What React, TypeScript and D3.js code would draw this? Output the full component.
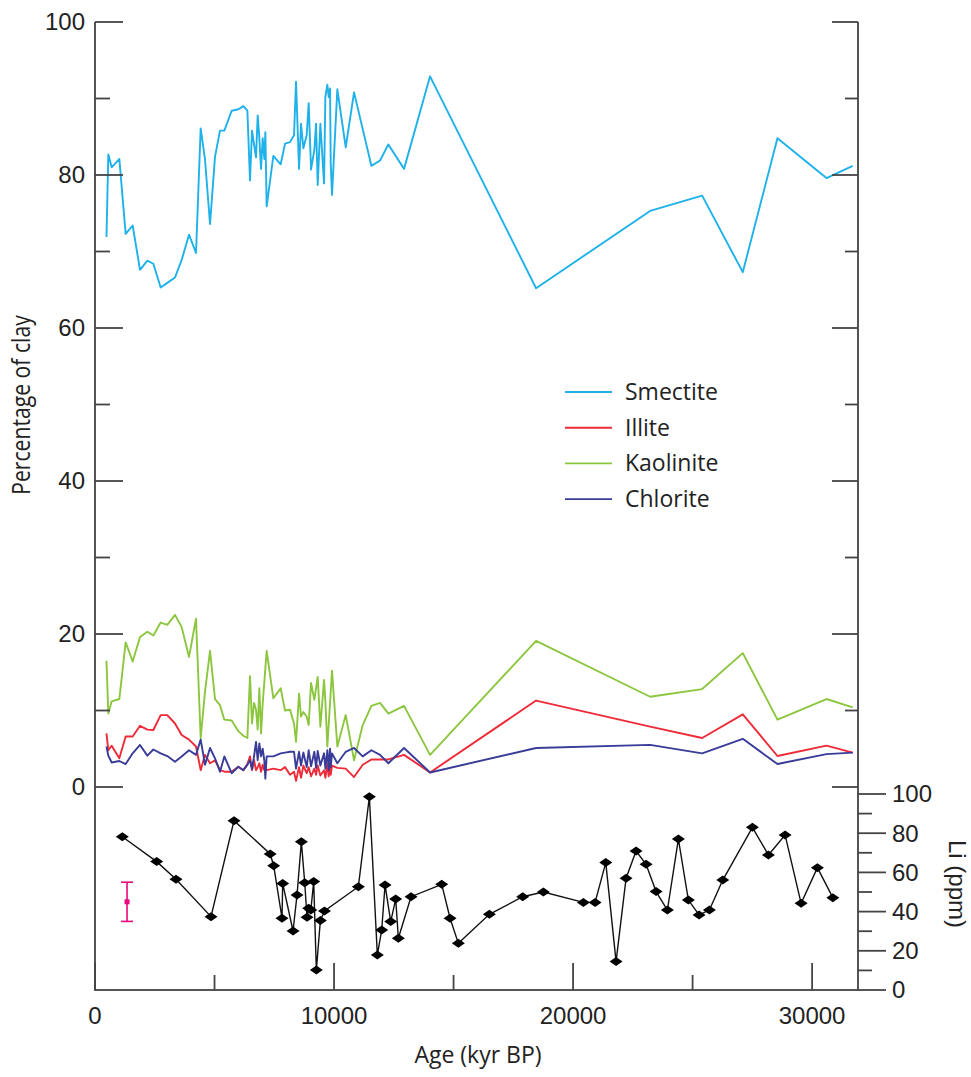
import * as d3 from 'd3';

// clay samples (age, kyr BP axis as labelled)
const ages = [
  480, 557, 698, 1018, 1283, 1576, 1883, 2190, 2441, 2748,
  3025, 3347, 3626, 3933, 4226, 4421, 4603, 4812, 5021, 5230,
  5411, 5718, 5997, 6206, 6374, 6485, 6569, 6653, 6736, 6806,
  6876, 6946, 7015, 7085, 7127, 7182, 7461, 7768, 7950, 8159,
  8326, 8410, 8536, 8619, 8717, 8856, 8940, 9038, 9177, 9247,
  9317, 9428, 9582, 9637, 9721, 9777, 9833, 9861, 9916, 10138,
  10489, 10837, 11200, 11562, 11925, 12273, 12929, 14017, 18452, 23222,
  25400, 27100, 28550, 30600, 31700,
];

const smectite = [
  71.9, 82.7, 81.0, 82.1, 72.3, 73.4, 67.6, 68.8, 68.4, 65.3,
  65.9, 66.6, 68.9, 72.2, 69.8, 86.1, 82.0, 73.6, 82.4, 85.8,
  85.8, 88.4, 88.6, 89.0, 88.4, 79.3, 85.8, 84.0, 82.3, 87.8,
  84.8, 80.8, 84.8, 82.1, 85.6, 75.9, 82.5, 81.4, 84.1, 84.3,
  85.2, 92.2, 80.8, 86.7, 83.5, 85.2, 89.4, 80.7, 83.3, 86.7,
  78.7, 86.7, 78.9, 90.2, 91.8, 90.2, 91.3, 81.5, 77.4, 91.2,
  83.6, 90.8, null, 81.2, 81.9, 84.0, 80.8, 92.9, 65.2, 75.3,
  77.3, 67.3, 84.8, 79.6, 81.2,
];

const kaolinite = [
  16.5, 9.6, 11.2, 11.5, 18.9, 16.4, 19.6, 20.3, 19.8, 21.5,
  21.2, 22.5, 20.9, 17.0, 22.0, 6.4, 12.5, 17.8, 11.5, 10.7,
  8.8, 8.7, 7.3, 6.7, 6.4, 14.5, 8.3, 11.0, 10.1, 7.5,
  12.9, 7.0, 10.9, null, null, 17.8, 11.6, 12.9, 10.0, 10.1,
  8.3, 5.9, 12.2, 9.2, 9.8, 9.2, 8.1, 13.6, 11.4, null,
  14.4, 7.9, 14.0, 11.2, 5.3, null, null, null, 15.2, 5.3,
  9.4, 3.5, 8.1, 10.6, 11.0, 9.6, 10.6, 4.2, 19.1, 11.8,
  12.8, 17.5, 8.8, 11.5, 10.4,
];

const illite = [
  7.0, 4.8, 5.4, 3.75, 6.6, 6.6, 8.0, 7.5, 7.45, 9.4,
  9.4, 8.3, 6.8, 6.2, 5.3, 2.2, 4.2, 3.1, 3.5, 2.2,
  2.0, 2.0, 2.65, 2.2, 3.0, 4.0, 2.2, 3.5, 2.2, 2.6,
  3.1, 2.0, 2.9, 2.2, 2.6, 2.2, 2.4, 2.2, 2.6, 1.6,
  2.0, 0.8, 2.6, 1.2, 2.8, 1.8, 2.6, 1.4, 2.4, 1.6,
  2.8, 1.5, 2.2, 1.2, 3.0, 1.4, 4.0, 1.6, 2.8, 2.5,
  2.4, 1.3, 2.9, 3.6, 3.6, 3.6, 4.2, 1.9, 11.3, 7.9,
  6.4, 9.5, 4.05, 5.4, 4.5,
];

const chlorite = [
  5.3, 4.1, 3.2, 3.4, 3.0, 4.4, 5.5, 4.1, 4.9, 4.4,
  4.05, 3.3, 4.0, 4.8, 4.2, 6.2, 2.9, 5.1, 3.75, 2.0,
  4.0, 1.8, 2.65, 2.2, 2.9, 3.5, 2.3, 4.0, 5.9, 3.5,
  5.7, 4.0, 5.0, 3.4, 1.1, 4.0, 4.0, 4.4, 4.5, 4.6,
  4.6, 2.4, 4.6, 2.8, 4.5, 2.6, 4.8, 2.7, 4.6, 2.5,
  4.7, 2.8, 4.4, 2.4, 4.8, 2.2, 5.0, 2.6, 4.4, 3.1,
  4.6, 5.1, 4.0, 4.8, 4.2, 3.1, 5.1, 1.9, 5.1, 5.5,
  4.4, 6.3, 3.0, 4.3, 4.5,
];

// Li (ppm) samples
const liAges = [
  1143, 2580, 3389, 4854, 5816, 7330, 7475, 7824, 7852, 8285,
  8452, 8633, 8774, 8870, 8940, 9030, 9149, 9260, 9428, 9600,
  11018, 11478, 11812, 11994, 12134, 12371, 12580, 12691, 13222, 14505,
  14854, 15201, 16499, 17894, 18758, 20432, 20921, 21368, 21799, 22218,
  22636, 23054, 23473, 23946, 24406, 24824, 25272, 25703, 26263, 27503,
  28172, 28870, 29540, 30222, 30866,
];
const liValues = [
  78.2, 65.5, 56.5, 37.4, 86.4, 69.4, 63.4, 36.6, 54.4, 30.1,
  48.5, 75.7, 54.7, 37.1, 41.7, 40.8, 55.3, 10.2, 35.4, 40.3,
  52.7, 98.6, 17.9, 30.6, 53.6, 34.9, 46.4, 26.4, 47.6, 53.9,
  36.6, 23.8, 38.6, 47.6, 50.0, 44.7, 44.7, 65.0, 14.5, 57.0,
  70.9, 64.1, 50.2, 40.8, 77.0, 45.9, 38.3, 40.8, 56.1, 83.0,
  68.9, 79.1, 44.2, 62.4, 47.1,
];

// analytical uncertainty bar
const errAge = 1340;
const errLi = 45;
const errLow = 35;
const errHigh = 55;

const clayMajor = [0, 20, 40, 60, 80, 100];
const clayMinor = [10, 30, 50, 70, 90];
const liMajor = [0, 20, 40, 60, 80, 100];
const liMinor = [10, 30, 50, 70, 90];
const ageMajor = [0, 10000, 20000, 30000];
const ageMinor = [5000, 15000, 25000];

const seriesNames = ['Smectite', 'Illite', 'Kaolinite', 'Chlorite'];
const seriesColors = ['#1eb1ea', '#ee2b38', '#8cc63f', '#393c98'];
const seriesValues = [smectite, illite, kaolinite, chlorite];
const drawOrder = [0, 2, 1, 3];

const W = 971;
const H = 1077;
const left = 95;
const right = 858;
const bottom = 990;

const tickFont = "'Liberation Sans', Arial, sans-serif";
const titleFont = "'Open Sans', sans-serif";

export default function App() {
  const x = d3.scaleLinear().domain([0, 31920]).range([left, right]);
  const yClay = d3.scaleLinear().domain([0, 100]).range([787, 22]);
  const yLi = d3.scaleLinear().domain([0, 100]).range([bottom, 794]);

  const clayLine = d3.line<[number, number]>()
    .x((d) => x(d[0]))
    .y((d) => yClay(d[1]));
  const liLine = d3.line<[number, number]>()
    .x((d) => x(d[0]))
    .y((d) => yLi(d[1]));

  const liPts: [number, number][] = liAges.map((a, i) => [a, liValues[i]]);
  const diamond = (cx: number, cy: number) => `M${cx - 6.5},${cy}L${cx},${cy - 4.5}L${cx + 6.5},${cy}L${cx},${cy + 4.5}Z`;

  return (
    <svg width={W} height={H} style={{ position: 'absolute', left: 0, top: 0, background: '#fff' }}>
      {/* clay series */}
      {drawOrder.map((k) => {
        const pts = ages
          .map((a, i) => [a, seriesValues[k][i]] as [number, number | null])
          .filter((p) => p[1] !== null) as [number, number][];
        return (
          <path key={seriesNames[k]} d={clayLine(pts) || ''} fill="none"
            stroke={seriesColors[k]} strokeWidth={1.9} strokeLinejoin="round" />
        );
      })}

      {/* Li series */}
      <path d={liLine(liPts) || ''} fill="none" stroke="#111" strokeWidth={1.4} />
      {liPts.map((p, i) => (
        <path key={i} d={diamond(x(p[0]), yLi(p[1]))} fill="#000" />
      ))}

      {/* error bar */}
      <g stroke="#e8097f" strokeWidth={1.6}>
        <line x1={x(errAge)} x2={x(errAge)} y1={yLi(errHigh)} y2={yLi(errLow)} />
        <line x1={x(errAge) - 6} x2={x(errAge) + 6} y1={yLi(errHigh)} y2={yLi(errHigh)} />
        <line x1={x(errAge) - 6} x2={x(errAge) + 6} y1={yLi(errLow)} y2={yLi(errLow)} />
      </g>
      <rect x={x(errAge) - 2.5} y={yLi(errLi) - 2.5} width={5} height={5} fill="#e8097f" />

      {/* frame */}
      <g stroke="#555" strokeWidth={2}>
        <line x1={left} x2={left} y1={22} y2={bottom + 1} />
        <line x1={right} x2={right} y1={22} y2={bottom + 1} />
        <line x1={left} x2={right} y1={bottom} y2={bottom} />
      </g>

      {/* ticks */}
      <g stroke="#444" strokeWidth={1.8}>
        {clayMajor.map((v) => (
          <g key={`cM${v}`}>
            <line x1={left} x2={left + 28} y1={yClay(v)} y2={yClay(v)} />
            <line x1={right} x2={right - 26} y1={yClay(v)} y2={yClay(v)} />
          </g>
        ))}
        {clayMinor.map((v) => (
          <g key={`cm${v}`}>
            <line x1={left} x2={left + 15} y1={yClay(v)} y2={yClay(v)} />
            <line x1={right} x2={right - 13} y1={yClay(v)} y2={yClay(v)} />
          </g>
        ))}
        {liMajor.map((v) => (
          <line key={`lM${v}`} x1={right} x2={right + 28} y1={yLi(v)} y2={yLi(v)} />
        ))}
        {liMinor.map((v) => (
          <line key={`lm${v}`} x1={right} x2={right + 14} y1={yLi(v)} y2={yLi(v)} />
        ))}
        {ageMajor.map((v) => (
          <line key={`aM${v}`} x1={x(v)} x2={x(v)} y1={bottom} y2={bottom - 27} />
        ))}
        {ageMinor.map((v) => (
          <line key={`am${v}`} x1={x(v)} x2={x(v)} y1={bottom} y2={bottom - 15} />
        ))}
      </g>

      {/* tick labels */}
      <g fontFamily={tickFont} fontSize={24} fill="#222">
        {clayMajor.map((v) => (
          <text key={`cl${v}`} x={85} y={yClay(v)} dy="0.35em" textAnchor="end">{v}</text>
        ))}
        {liMajor.map((v) => (
          <text key={`ll${v}`} x={892} y={yLi(v)} dy="0.35em" textAnchor="start">{v}</text>
        ))}
        {ageMajor.map((v) => (
          <text key={`al${v}`} x={x(v)} y={1024} textAnchor="middle">{v}</text>
        ))}
      </g>

      {/* axis titles */}
      <text transform="translate(30,405) rotate(-90) scale(0.92,1.08)" textAnchor="middle"
        fontFamily={titleFont} fontSize={23} fill="#222">Percentage of clay</text>
      <text x={478} y={1063} textAnchor="middle" transform="translate(478,0) scale(1,1) translate(-478,0)"
        fontFamily={titleFont} fontSize={23} fill="#222">Age (kyr BP)</text>
      <text transform="translate(949,884) rotate(90)" textAnchor="middle"
        fontFamily={tickFont} fontSize={24} fill="#222">Li (ppm)</text>

      {/* legend */}
      {seriesNames.map((n, i) => (
        <g key={n} transform={`translate(565,${392 + i * 35.7})`}>
          <line x1={0} x2={47} y1={0} y2={0} stroke={seriesColors[i]} strokeWidth={1.9} />
          <text x={60} y={0} dy="0.35em" fontFamily={titleFont} fontSize={23} fill="#222">{n}</text>
        </g>
      ))}
    </svg>
  );
}
